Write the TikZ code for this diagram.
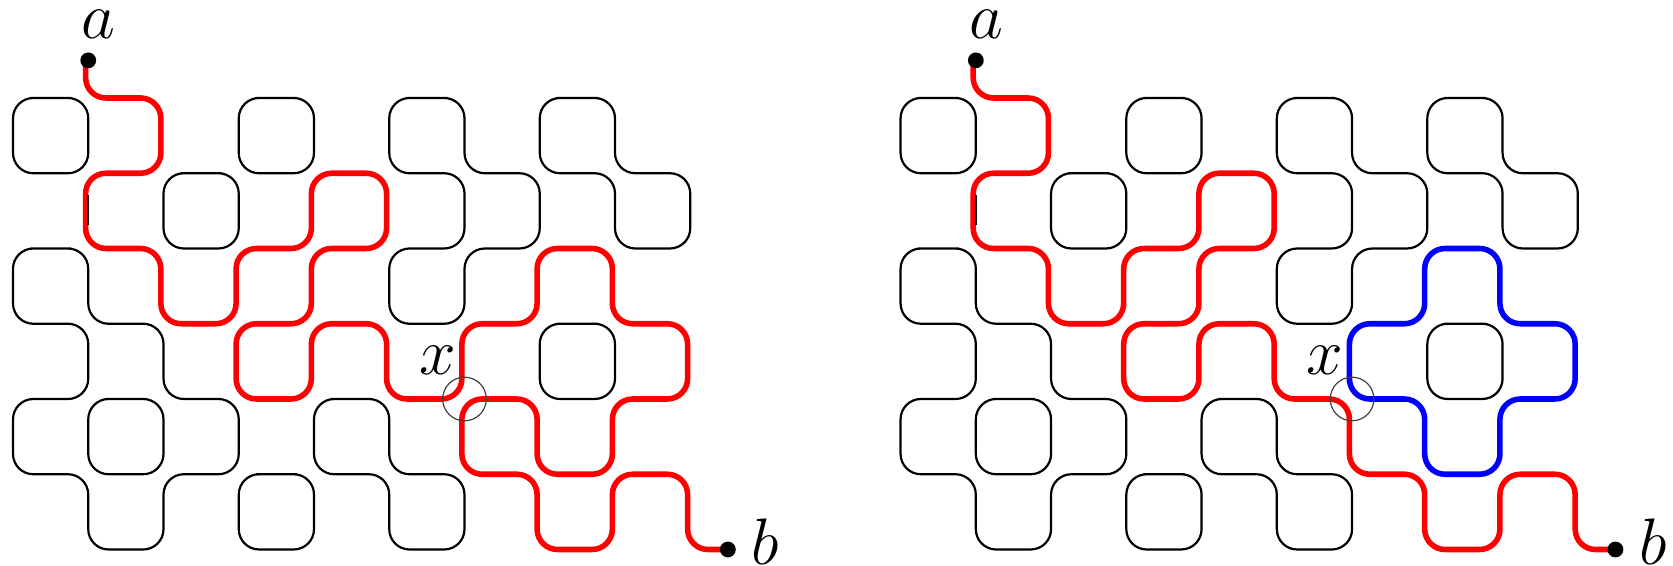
\documentclass[tikz,border=0pt]{standalone}
\tikzset{
  gridloop/.style={line width=0.83pt, black, rounded corners=0.27cm},
  redpath/.style={line width=2.1pt, red, rounded corners=0.27cm},
  bluepath/.style={line width=2.1pt, blue, rounded corners=0.27cm},
  enddot/.style={circle, fill=black, inner sep=0pt, minimum size=0.21cm},
  lbl/.style={inner sep=0pt, anchor=base, font=\fontsize{24.88}{30}\selectfont},
  markcirc/.style={draw=black!75, line width=0.45pt, circle, inner sep=0pt, minimum size=0.58cm},
}
\newcommand\gridloops{%
  \draw[gridloop] (0.5,0) -- (1,0) -- (1,1) -- (0,1) -- (0,0) -- cycle;
  \draw[gridloop] (3.5,0) -- (4,0) -- (4,1) -- (3,1) -- (3,0) -- cycle;
  \draw[gridloop] (2.5,1) -- (3,1) -- (3,2) -- (2,2) -- (2,1) -- cycle;
  \draw[gridloop] (5.5,0) -- (6,0) -- (6,1) -- (7,1) -- (7,2) -- (6,2) -- (6,3) -- (5,3) -- (5,2) -- (6,2) -- (6,1) -- (5,1) -- (5,0) -- cycle;
  \draw[gridloop] (7.5,0) -- (8,0) -- (8,1) -- (9,1) -- (9,2) -- (8,2) -- (8,1) -- (7,1) -- (7,0) -- cycle;
  \draw[gridloop] (0.5,2) -- (1,2) -- (1,3) -- (2,3) -- (2,4) -- (3,4) -- (3,5) -- (2,5) -- (2,6) -- (1,6) -- (1,5) -- (0,5) -- (0,4) -- (1,4) -- (1,3) -- (0,3) -- (0,2) -- cycle;
  \draw[gridloop] (1.5,4) -- (2,4) -- (2,5) -- (1,5) -- (1,4) -- cycle;
  \draw[gridloop] (3.5,5) -- (4,5) -- (4,6) -- (3,6) -- (3,5) -- cycle;
  \draw[gridloop] (4.5,4) -- (5,4) -- (5,5) -- (6,5) -- (6,6) -- (5,6) -- (5,5) -- (4,5) -- (4,4) -- cycle;
  \draw[gridloop] (7.5,3) -- (8,3) -- (8,4) -- (7,4) -- (7,3) -- cycle;
}
\newcommand\pathstart{(1,-0.5) -- (1,0) -- (2,0) -- (2,1) -- (1,1) -- (1,2) -- (2,2) -- (2,3) -- (3,3) -- (3,2) -- (4,2) -- (4,1) -- (5,1) -- (5,2) -- (4,2) -- (4,3) -- (3,3) -- (3,4) -- (4,4) -- (4,3) -- (5,3) -- (5,4) -- (6,4)}
\newcommand\pathend{(6,5) -- (7,5) -- (7,6) -- (8,6) -- (8,5) -- (9,5) -- (9,6) -- (9.5,6)}
\begin{document}
\begin{tikzpicture}[x=1cm, y=-1cm]
\useasboundingbox (-0.1728,-1.3023) rectangle (22.060,6.219);
% ---------- left panel ----------
\begin{scope}
  \gridloops
  \begin{scope}[xshift=-0.035cm]
    \draw[redpath] \pathstart -- (6,3) -- (7,3) -- (7,2) -- (8,2) -- (8,3) -- (9,3) -- (9,4) -- (8,4) -- (8,5) -- (7,5) -- (7,4) -- (6,4) -- \pathend;
  \end{scope}
  \draw[line width=0.83pt] (1,1.29) -- (1,1.69);
  \node[enddot] (a1) at (1,-0.5) {};
  \node[enddot] (b1) at (9.5,6) {};
  \node[markcirc] (x1) at (6,4) {};
  \node[lbl] (la1) at (1.14,-0.797) {$a$};
  \node[lbl] (lb1) at (10.0,6.193) {$b$};
  \node[lbl] (lx1) at (5.64,3.681) {$x$};
\end{scope}
% ---------- right panel ----------
\begin{scope}[xshift=11.795cm]
  \gridloops
  \begin{scope}[xshift=-0.035cm]
    \draw[redpath] \pathstart -- \pathend;
    \draw[bluepath] (6,3.5) -- (6,3) -- (7,3) -- (7,2) -- (8,2) -- (8,3) -- (9,3) -- (9,4) -- (8,4) -- (8,5) -- (7,5) -- (7,4) -- (6,4) -- cycle;
  \end{scope}
  \draw[line width=0.83pt] (1,1.29) -- (1,1.69);
  \node[enddot] (a2) at (1,-0.5) {};
  \node[enddot] (b2) at (9.5,6) {};
  \node[markcirc] (x2) at (6,4) {};
  \node[lbl] (la2) at (1.14,-0.797) {$a$};
  \node[lbl] (lb2) at (10.0,6.193) {$b$};
  \node[lbl] (lx2) at (5.64,3.681) {$x$};
\end{scope}
\end{tikzpicture}
\end{document}
